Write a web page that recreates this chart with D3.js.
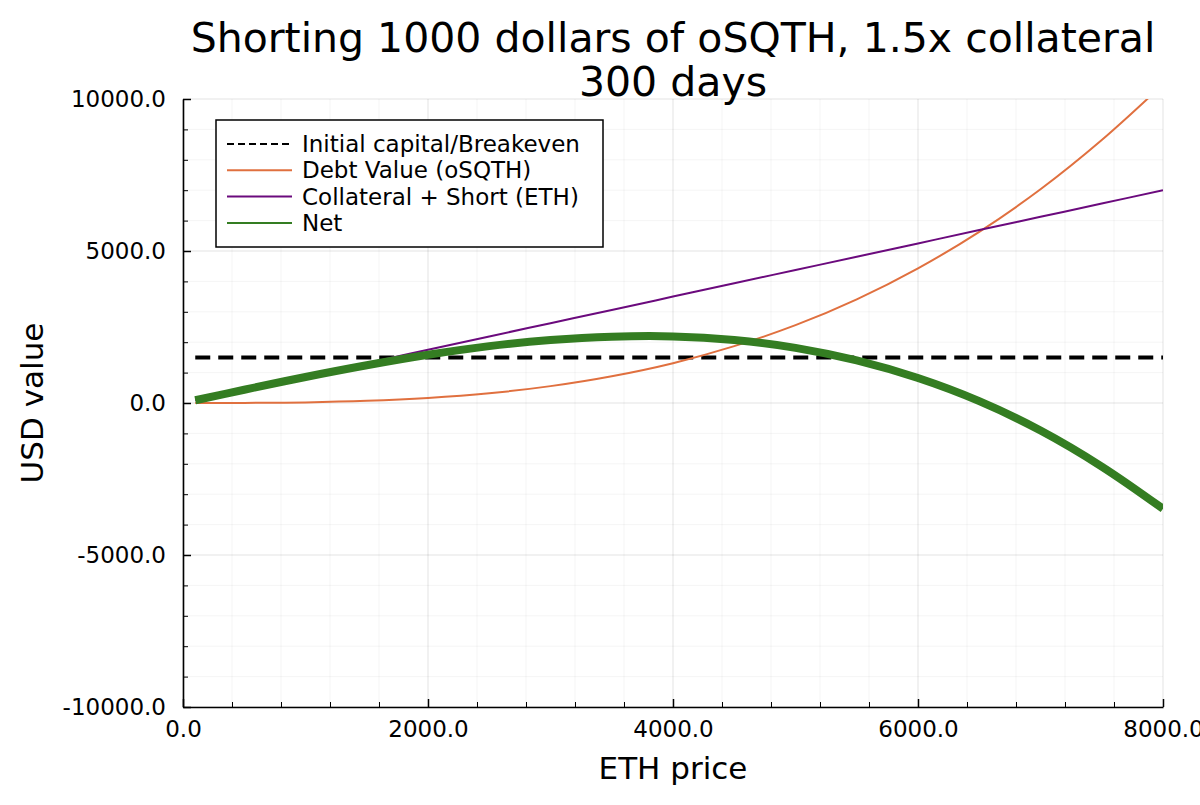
<!DOCTYPE html>
<html lang="en">
<head>
<meta charset="UTF-8">
<title>Shorting oSQTH</title>
<style>
  body { margin: 0; background: #fff; }
  svg { display: block; font-family: "DejaVu Sans", sans-serif; }
</style>
</head>
<body>
<svg id="chart"></svg>
<script src="https://d3js.org/d3.v7.min.js"></script>
<script>
// values
const ethPrice = [100, 500, 1000, 1500, 2000, 2500, 3000, 3500, 4000, 4500, 5000, 5500, 6000, 6500, 7000, 7500, 8000];
const debtValue = [0, 3, 20, 70, 165, 320, 555, 880, 1310, 1870, 2560, 3410, 4430, 5630, 7030, 8650, 10480];
const collateralValue = [90, 440, 875, 1310, 1750, 2190, 2625, 3060, 3500, 3940, 4375, 4810, 5250, 5690, 6125, 6560, 7000];
const netValue = [90, 437, 855, 1240, 1585, 1870, 2070, 2180, 2190, 2070, 1815, 1400, 820, 60, -905, -2090, -3480];
const breakeven = 1500;

const xMajor = [0, 2000, 4000, 6000, 8000];
const yMajor = [-10000, -5000, 0, 5000, 10000];
const xMinor = d3.range(0, 8001, 400);
const yMinor = d3.range(-10000, 10001, 1000);

const seriesNames = ["Initial capital/Breakeven", "Debt Value (oSQTH)", "Collateral + Short (ETH)", "Net"];
const seriesColors = ["#000000", "#e0703f", "#6b0a7d", "#347d22"];

const width = 1200, height = 805;
const marginLeft = 183, marginRight = 37, marginTop = 99, marginBottom = 98;

const svg = d3.select("#chart")
    .attr("width", width)
    .attr("height", height)
    .attr("viewBox", [0, 0, width, height]);

const x = d3.scaleLinear([0, 8000], [marginLeft, width - marginRight]);
const y = d3.scaleLinear([-10000, 10000], [height - marginBottom, marginTop]);

// grid: minor first, then major
svg.append("g")
    .selectAll("line")
    .data(xMinor)
    .join("line")
    .attr("x1", d => x(d)).attr("x2", d => x(d))
    .attr("y1", y(-10000)).attr("y2", y(10000))
    .attr("stroke", "#000").attr("stroke-opacity", 0.045);
svg.append("g")
    .selectAll("line")
    .data(yMinor)
    .join("line")
    .attr("y1", d => y(d)).attr("y2", d => y(d))
    .attr("x1", x(0)).attr("x2", x(8000))
    .attr("stroke", "#000").attr("stroke-opacity", 0.045);
svg.append("g")
    .selectAll("line")
    .data(xMajor)
    .join("line")
    .attr("x1", d => x(d)).attr("x2", d => x(d))
    .attr("y1", y(-10000)).attr("y2", y(10000))
    .attr("stroke", "#000").attr("stroke-opacity", 0.07);
svg.append("g")
    .selectAll("line")
    .data(yMajor)
    .join("line")
    .attr("y1", d => y(d)).attr("y2", d => y(d))
    .attr("x1", x(0)).attr("x2", x(8000))
    .attr("stroke", "#000").attr("stroke-opacity", 0.07);

// clip
svg.append("clipPath").attr("id", "clip")
    .append("rect")
    .attr("x", x(0)).attr("y", y(10000))
    .attr("width", x(8000) - x(0)).attr("height", y(-10000) - y(10000));

const line = d3.line()
    .x((d, i) => x(ethPrice[i]))
    .y(d => y(d))
    .curve(d3.curveCatmullRom);

const plot = svg.append("g").attr("clip-path", "url(#clip)");

plot.append("line")
    .attr("x1", x(ethPrice[0])).attr("x2", x(ethPrice[ethPrice.length - 1]))
    .attr("y1", y(breakeven)).attr("y2", y(breakeven))
    .attr("stroke", seriesColors[0])
    .attr("stroke-width", 4)
    .attr("stroke-dasharray", "15,8");

plot.append("path").datum(debtValue)
    .attr("d", line).attr("fill", "none")
    .attr("stroke", seriesColors[1]).attr("stroke-width", 2);

plot.append("path").datum(collateralValue)
    .attr("d", line).attr("fill", "none")
    .attr("stroke", seriesColors[2]).attr("stroke-width", 2);

plot.append("path").datum(netValue)
    .attr("d", line).attr("fill", "none")
    .attr("stroke", seriesColors[3]).attr("stroke-width", 8)
    .attr("stroke-linejoin", "round");

// axes
const fmt = d => d.toFixed(1);

svg.append("g")
    .attr("transform", `translate(0,${y(-10000)})`)
    .call(d3.axisBottom(x).tickValues(xMinor).tickSize(-5).tickFormat(""))
    .call(g => g.select(".domain").remove());
svg.append("g")
    .attr("transform", `translate(${x(0)},0)`)
    .call(d3.axisLeft(y).tickValues(yMinor).tickSize(-5).tickFormat(""))
    .call(g => g.select(".domain").remove());

svg.append("g")
    .attr("transform", `translate(0,${y(-10000)})`)
    .call(d3.axisBottom(x).tickValues(xMajor).tickSize(-8).tickSizeOuter(0).tickPadding(14).tickFormat(fmt))
    .call(g => g.selectAll("text").attr("font-size", 23).attr("fill", "#000"))
    .call(g => g.selectAll("line").attr("stroke-width", 1.5))
    .call(g => g.select(".domain").attr("stroke-width", 1.6));

svg.append("g")
    .attr("transform", `translate(${x(0)},0)`)
    .call(d3.axisLeft(y).tickValues(yMajor).tickSize(-8).tickSizeOuter(0).tickPadding(17).tickFormat(fmt))
    .call(g => g.selectAll("text").attr("font-size", 23).attr("fill", "#000"))
    .call(g => g.selectAll("line").attr("stroke-width", 1.5))
    .call(g => g.select(".domain").attr("stroke-width", 1.6));

svg.selectAll(".tick line").attr("stroke", "#000");
svg.selectAll("g").attr("font-family", null);

// axis titles
svg.append("text")
    .attr("x", (x(0) + x(8000)) / 2)
    .attr("y", 779)
    .attr("text-anchor", "middle")
    .attr("font-size", 31)
    .text("ETH price");

svg.append("text")
    .attr("transform", `translate(43,${(y(-10000) + y(10000)) / 2}) rotate(-90)`)
    .attr("text-anchor", "middle")
    .attr("font-size", 31)
    .text("USD value");

// title
const title = svg.append("text")
    .attr("text-anchor", "middle")
    .attr("font-size", 41);
title.append("tspan").attr("x", (x(0) + x(8000)) / 2).attr("y", 52)
    .text("Shorting 1000 dollars of oSQTH, 1.5x collateral");
title.append("tspan").attr("x", (x(0) + x(8000)) / 2).attr("y", 96)
    .text("300 days");

// legend
const legend = svg.append("g").attr("transform", "translate(216,120)");
legend.append("rect")
    .attr("width", 387).attr("height", 127)
    .attr("fill", "#fff").attr("stroke", "#000").attr("stroke-width", 1.5);

const rows = legend.selectAll("g.row")
    .data(seriesNames)
    .join("g")
    .attr("class", "row")
    .attr("transform", (d, i) => `translate(0,${24 + i * 26.3})`);

rows.append("line")
    .attr("x1", 11).attr("x2", 76)
    .attr("stroke", (d, i) => seriesColors[i])
    .attr("stroke-width", 2)
    .attr("stroke-dasharray", (d, i) => i === 0 ? "7,4" : null);

rows.append("text")
    .attr("x", 86)
    .attr("dy", "0.35em")
    .attr("font-size", 23)
    .text(d => d);
</script>
</body>
</html>
